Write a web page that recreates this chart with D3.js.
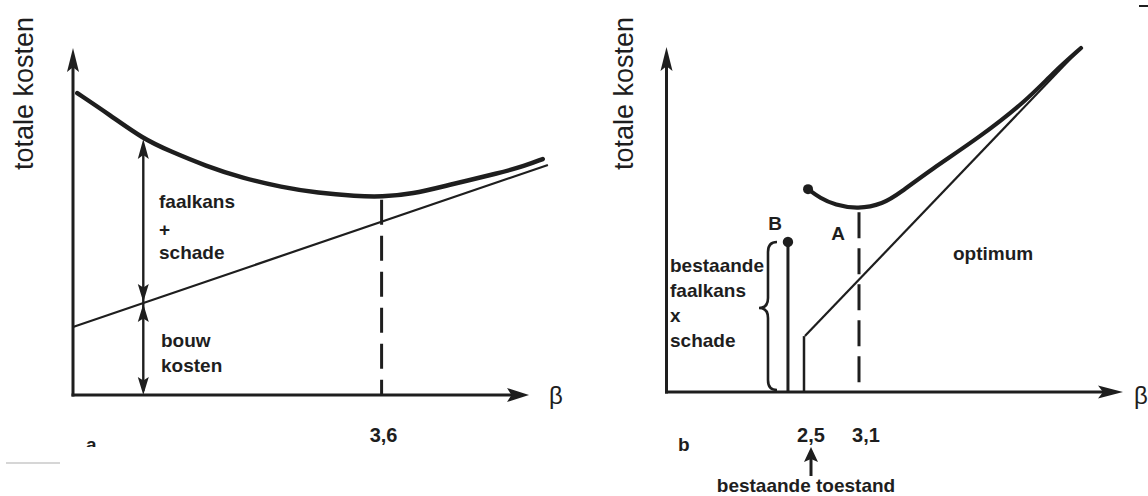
<!DOCTYPE html>
<html><head><meta charset="utf-8">
<script src="https://cdn.jsdelivr.net/npm/d3@7"></script>
<style>
html,body{margin:0;padding:0;background:#fff;}
svg{display:block;}
text{font-family:"Liberation Sans",Arial,Helvetica,sans-serif;fill:#1e1e1e;}
</style></head><body>
<svg id="c" width="1148" height="496"></svg>
<script>
// ---------- Panel a data ----------
const betaA  = [0.05,0.43,0.82,1.13,1.55,1.98,2.43,2.86,3.30,3.60,3.96,4.38,4.98,5.27,5.48];
const totalA = [8.70,8.07,7.38,7.03,6.60,6.25,5.99,5.82,5.73,5.71,5.79,6.05,6.40,6.60,6.80];
const bouwBetaA = [0, 5.54];
const bouwA     = [1.96, 6.63];
const optBetaA = 3.6, optCostA = 5.71;
const arrowBetaA = 0.82;
const tickValsA = [3.6];
const tickLabelsA = ["3,6"];
// ---------- Panel b data ----------
const betaB  = [2.544,2.675,2.838,3.089,3.362,3.547,3.875,4.420,4.933,5.216,5.522];
const totalB = [5.88,5.62,5.42,5.30,5.45,5.77,6.43,7.39,8.46,9.25,9.97];
const bouwBetaB = [2.51, 5.52];
const bouwB     = [1.62, 9.97];
const existBeta = 2.5;
const optBetaB = 3.1, optCostB = 5.30;
const pointBBeta = 2.325, pointBCost = 4.35;
const tickValsB = [2.5, 3.1];
const tickLabelsB = ["2,5", "3,1"];

const ink = "#1e1e1e";
const svg = d3.select("#c");

// scales
const xA = d3.scaleLinear().domain([0, 3.6]).range([73, 381.6]);
const yA = d3.scaleLinear().domain([0, 10]).range([395, 48]);
const xB = d3.scaleLinear().domain([2.5, 3.1]).range([804, 859]);
const yB = d3.scaleLinear().domain([0, 10]).range([392, 47]);
const xAend = 5.32, xBstart = 1.0, xBend = 5.98;

function arrowHead(tx, ty, dir, len, hw) {
  let p;
  if (dir === "up")    p = [[tx,ty],[tx-hw,ty+len],[tx,ty+len*0.8],[tx+hw,ty+len]];
  if (dir === "down")  p = [[tx,ty],[tx-hw,ty-len],[tx,ty-len*0.8],[tx+hw,ty-len]];
  if (dir === "right") p = [[tx,ty],[tx-len,ty-hw],[tx-len*0.8,ty],[tx-len,ty+hw]];
  svg.append("path").attr("d", "M" + p.map(q => q.join(",")).join("L") + "Z").attr("fill", ink);
}
function seg(x1,y1,x2,y2,w,dash){
  const l = svg.append("line").attr("x1",x1).attr("y1",y1).attr("x2",x2).attr("y2",y2)
    .attr("stroke",ink).attr("stroke-width",w);
  if (dash) l.attr("stroke-dasharray",dash);
  return l;
}
function label(txt,x,y,size,weight,anchor){
  return svg.append("text").attr("x",x).attr("y",y).attr("font-size",size)
    .attr("font-weight",weight||"bold").attr("text-anchor",anchor||"start").text(txt);
}

// ================= PANEL A =================
seg(xA(0), yA(0)+1.5, xA(0), yA(10)+10, 3);
arrowHead(xA(0), yA(10), "up", 24, 6);
seg(xA(0)-1.5, yA(0), xA(xAend)-10, yA(0), 3);
arrowHead(xA(xAend), yA(0), "right", 22, 7);

svg.append("path").datum(d3.zip(bouwBetaA, bouwA))
  .attr("d", d3.line().x(d=>xA(d[0])).y(d=>yA(d[1])))
  .attr("fill","none").attr("stroke",ink).attr("stroke-width",2.2);

svg.append("path").datum(d3.zip(betaA, totalA))
  .attr("d", d3.line().x(d=>xA(d[0])).y(d=>yA(d[1])).curve(d3.curveBasis))
  .attr("fill","none").attr("stroke",ink).attr("stroke-width",4.5).attr("stroke-linecap","round");

seg(xA(optBetaA), yA(optCostA)+3, xA(optBetaA), yA(0), 3, "25,11");

const ax = xA(arrowBetaA);
const aTop = yA(totalA[2]);
const aMid = yA(bouwA[0] + (bouwA[1]-bouwA[0])/(bouwBetaA[1]-bouwBetaA[0])*arrowBetaA);
seg(ax, aTop+6, ax, yA(0)-4, 2.4);
arrowHead(ax, aTop, "up", 20, 5.5);
arrowHead(ax, aMid-1, "down", 18, 5.5);
arrowHead(ax, aMid+1, "up", 18, 5.5);
arrowHead(ax, yA(0), "down", 18, 5.5);

tickValsA.forEach((v,i) => label(tickLabelsA[i], xA(v)+2, 442, 20, "bold", "middle"));

svg.append("text").attr("transform","translate(33,170) rotate(-90)")
  .attr("font-size",27).text("totale kosten");
label("β", 549, 404, 24, "normal");
label("faalkans", 159, 208, 19);
label("+", 159, 236, 19);
label("schade", 159, 259, 19);
label("bouw", 161, 347, 19);
label("kosten", 161, 372, 19);
svg.append("clipPath").attr("id","clipA").append("rect").attr("x",70).attr("y",420).attr("width",60).attr("height",27);
label("a", 86, 451, 19).attr("clip-path","url(#clipA)");
seg(6, 463, 60, 463, 1.5).attr("stroke","#c8c8c8");

// ================= PANEL B =================
seg(xB(xBstart), yB(0)+1.5, xB(xBstart), yB(10)+10, 3);
arrowHead(xB(xBstart), yB(10), "up", 24, 6);
seg(xB(xBstart)-1.5, yB(0), xB(xBend)-10, yB(0), 3);
arrowHead(xB(xBend), yB(0), "right", 25, 6.5);

svg.append("path").datum(d3.zip(bouwBetaB, bouwB))
  .attr("d", d3.line().x(d=>xB(d[0])).y(d=>yB(d[1])))
  .attr("fill","none").attr("stroke",ink).attr("stroke-width",2.2);
seg(xB(existBeta), yB(bouwB[0]), xB(existBeta), yB(0), 2.5);

svg.append("path").datum(d3.zip(betaB, totalB))
  .attr("d", d3.line().x(d=>xB(d[0])).y(d=>yB(d[1])).curve(d3.curveBasis))
  .attr("fill","none").attr("stroke",ink).attr("stroke-width",4.2).attr("stroke-linecap","round");
svg.append("circle").attr("cx",xB(betaB[0])).attr("cy",yB(totalB[0])).attr("r",5).attr("fill",ink);

seg(xB(pointBBeta), yB(pointBCost), xB(pointBBeta), yB(0), 3);
svg.append("circle").attr("cx",xB(pointBBeta)).attr("cy",yB(pointBCost)).attr("r",5.2).attr("fill",ink);

seg(xB(optBetaB), yB(optCostB)+3, xB(optBetaB), yB(0), 3, "26,10");

(function(){
  const bx = 768, hw = 9, r = 10;
  const y0 = yB(pointBCost), y1 = yB(0)-2, ym = 308;
  const d = `M${bx+hw},${y0} Q${bx},${y0} ${bx},${y0+r} L${bx},${ym-r} Q${bx},${ym} ${bx-hw},${ym}`+
            ` Q${bx},${ym} ${bx},${ym+r} L${bx},${y1-r} Q${bx},${y1} ${bx+hw},${y1}`;
  svg.append("path").attr("d",d).attr("fill","none").attr("stroke",ink).attr("stroke-width",2.6);
})();

tickValsB.forEach((v,i) => label(tickLabelsB[i], xB(v)+7, 442, 20, "bold", "middle"));

svg.append("text").attr("transform","translate(633,170) rotate(-90)")
  .attr("font-size",27).text("totale kosten");
label("β", 1134, 404, 24, "normal");
label("B", 775, 230, 19, "bold", "middle");
label("A", 838, 240, 19, "bold", "middle");
label("optimum", 953, 260, 19);
label("bestaande", 670, 272, 19);
label("faalkans", 670, 297, 19);
label("x", 670, 322, 19);
label("schade", 670, 347, 19);
label("b", 678, 451, 19);

const ex = xB(existBeta) + 7;
seg(ex, 458, ex, 476, 3);
arrowHead(ex, 447, "up", 15, 7);
label("bestaande toestand", 806, 492, 19, "bold", "middle");

seg(1139, 6, 1148, 6, 2);
</script>
</body></html>
